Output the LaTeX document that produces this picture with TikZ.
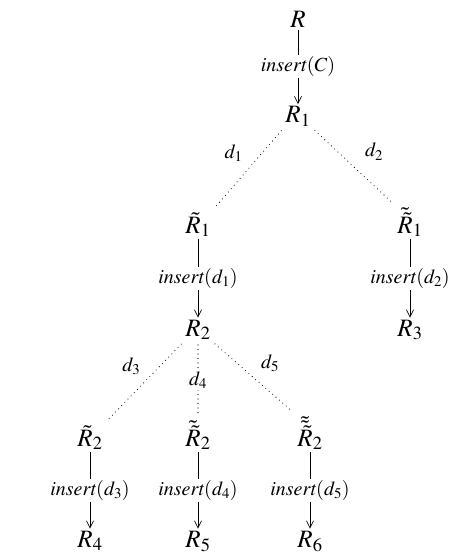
\documentclass[tikz,border=0pt]{standalone}
\usepackage{mathptmx}
\usetikzlibrary{arrows.meta}
\begin{document}
\begin{tikzpicture}[x=1pt,y=-1pt,
st/.style={anchor=base,inner sep=2pt,font=\fontsize{25}{29}\selectfont},
lab/.style={fill=white,inner sep=1.5pt,font=\fontsize{20}{23}\selectfont},
dl/.style={inner sep=1pt,font=\fontsize{20}{23}\selectfont},
ins/.style={-{Straight Barb[length=7pt,width=7pt]},line width=0.7pt},
dd/.style={line width=1.1pt,line cap=round,dash pattern=on 0pt off 4.5pt}]
\useasboundingbox (0,0) rectangle (453,558);
% states
\node[st] (R) at (298,27.5) {$R$};
\node[st] (R1) at (298,122.5) {$R_1$};
\node[st] (Rt1) at (198,233) {$\tilde{R}_1$};
\node[st] (Rtt1) at (410,233) {$\tilde{\tilde{R}}_1$};
\node[st] (R2) at (198,336) {$R_2$};
\node[st] (R3) at (410,336) {$R_3$};
\node[st] (Rt2) at (90,446) {$\tilde{R}_2$};
\node[st] (Rtt2) at (198,446) {$\tilde{\tilde{R}}_2$};
\node[st] (Rttt2) at (310,446) {$\tilde{\tilde{\tilde{R}}}_2$};
\node[st] (R4) at (90,547) {$R_4$};
\node[st] (R5) at (198,547) {$R_5$};
\node[st] (R6) at (310,547) {$R_6$};
% inserts
\draw[ins] (R) -- node[lab]{$\mathit{insert}(C)$} (R1);
\draw[ins] (Rt1) -- node[lab]{$\mathit{insert}(d_1)$} (R2);
\draw[ins] (Rtt1) -- node[lab]{$\mathit{insert}(d_2)$} (R3);
\draw[ins] (Rt2) -- node[lab]{$\mathit{insert}(d_3)$} (R4);
\draw[ins] (Rtt2) -- node[lab]{$\mathit{insert}(d_4)$} (R5);
\draw[ins] (Rttt2) -- node[lab]{$\mathit{insert}(d_5)$} (R6);
% choices
\draw[dd,shorten <=3pt,shorten >=5pt] (R1.south west) -- node[dl,pos=.3,left=18pt]{$d_1$} (Rt1.north east);
\draw[dd,shorten <=3pt,shorten >=5pt] (R1.south east) -- node[dl,pos=.3,right=26pt]{$d_2$} (Rtt1.north west);
\draw[dd,shorten <=3pt,shorten >=5pt] (R2.south west) -- node[dl,pos=.3,left=18pt]{$d_3$} (Rt2.north east);
\draw[dd,shorten <=3pt,shorten >=3pt] (R2) -- node[lab,pos=.5]{$d_4$} (Rtt2);
\draw[dd,shorten <=3pt,shorten >=5pt] (R2.south east) -- node[dl,pos=.3,right=22pt]{$d_5$} (Rttt2.north west);
\end{tikzpicture}
\end{document}
